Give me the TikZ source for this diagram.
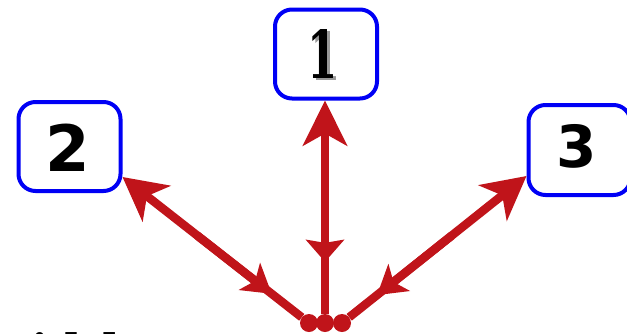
\documentclass[tikz,border=0pt]{standalone}
\usepackage{fontspec}
\usetikzlibrary{arrows.meta,calc}
\newfontfamily\numsans{DejaVu Sans}
\newfontfamily\numserif{DejaVu Serif}
\definecolor{arrred}{RGB}{192,20,26}
\definecolor{boxblue}{RGB}{0,0,245}
\newcommand{\oneglyph}{\scalebox{0.66}[1]{1}}
\begin{document}
\begin{tikzpicture}[x=1pt,y=-1pt,
  numbox/.style={draw=boxblue,line width=4pt,rounded corners=17pt,fill=white,
    minimum width=102pt,minimum height=89pt,inner sep=0pt},
  numlbl/.style={inner sep=0pt,font=\numsans\bfseries\fontsize{64}{64}\selectfont},
  redline/.style={draw=arrred,line width=8.5pt},
  dotnode/.style={circle,fill=arrred,minimum size=18pt,inner sep=0pt}]
\useasboundingbox (0,0) rectangle (627,333);
% boxes
\node[numbox] (box1) at (326,54) {};
\node[numbox] (box2) at (69.5,146.5) {};
\node[numbox,minimum height=90pt] (box3) at (579.5,150) {};
% numbers
\node[inner sep=0pt,font=\numserif\bfseries\fontsize{66}{66}\selectfont] (n1) at (323,55)
  {\makebox[0pt][l]{\hspace{2.5pt}\raisebox{-2.5pt}{\color{black!40}\oneglyph}}\oneglyph};
\node[numlbl] (n2) at (68,148) {2};
\node[numlbl,font=\numsans\bfseries\fontsize{58}{58}\selectfont] (n3) at (577,146) {3};
% dots
\node[dotnode] (dL) at (309,323) {};
\node[dotnode] (dC) at (325,323) {};
\node[dotnode] (dR) at (342,323) {};
% connector end points
\coordinate (t1) at (dC |- box1.south);
\coordinate (t2) at ($(box2.east)+(0,30.5)$);
\coordinate (t3) at ($(box3.west)+(0,26)$);
\coordinate (m1) at ($(dC)!0.275!(t1)$);
\coordinate (m2) at ($(dL)!0.2!(t2)$);
\coordinate (m3) at ($(dR)!0.19!(t3)$);
% connectors
\draw[redline] ($(t1)!0.5!(m1)$) -- (dC);
\draw[redline,{Stealth[length=45pt,width=44pt,inset=12pt]}-{Stealth[length=22pt,width=38pt,inset=3pt]}] (t1) -- (m1);
\draw[redline] ($(t2)!0.5!(m2)$) -- (dL);
\draw[redline,{Stealth[length=43pt,width=45pt,inset=12pt]}-{Stealth[length=28pt,width=34pt,inset=7pt]}] (t2) -- (m2);
\draw[redline] ($(t3)!0.5!(m3)$) -- (dR);
\draw[redline,{Stealth[length=43pt,width=45pt,inset=12pt]}-{Stealth[length=28pt,width=34pt,inset=7pt]}] (t3) -- (m3);
% clipped caption text
\node[anchor=base west,inner sep=0pt,font=\numserif\bfseries\fontsize{46}{46}\selectfont] (cap) at (-8,367) {width};
\end{tikzpicture}
\end{document}
